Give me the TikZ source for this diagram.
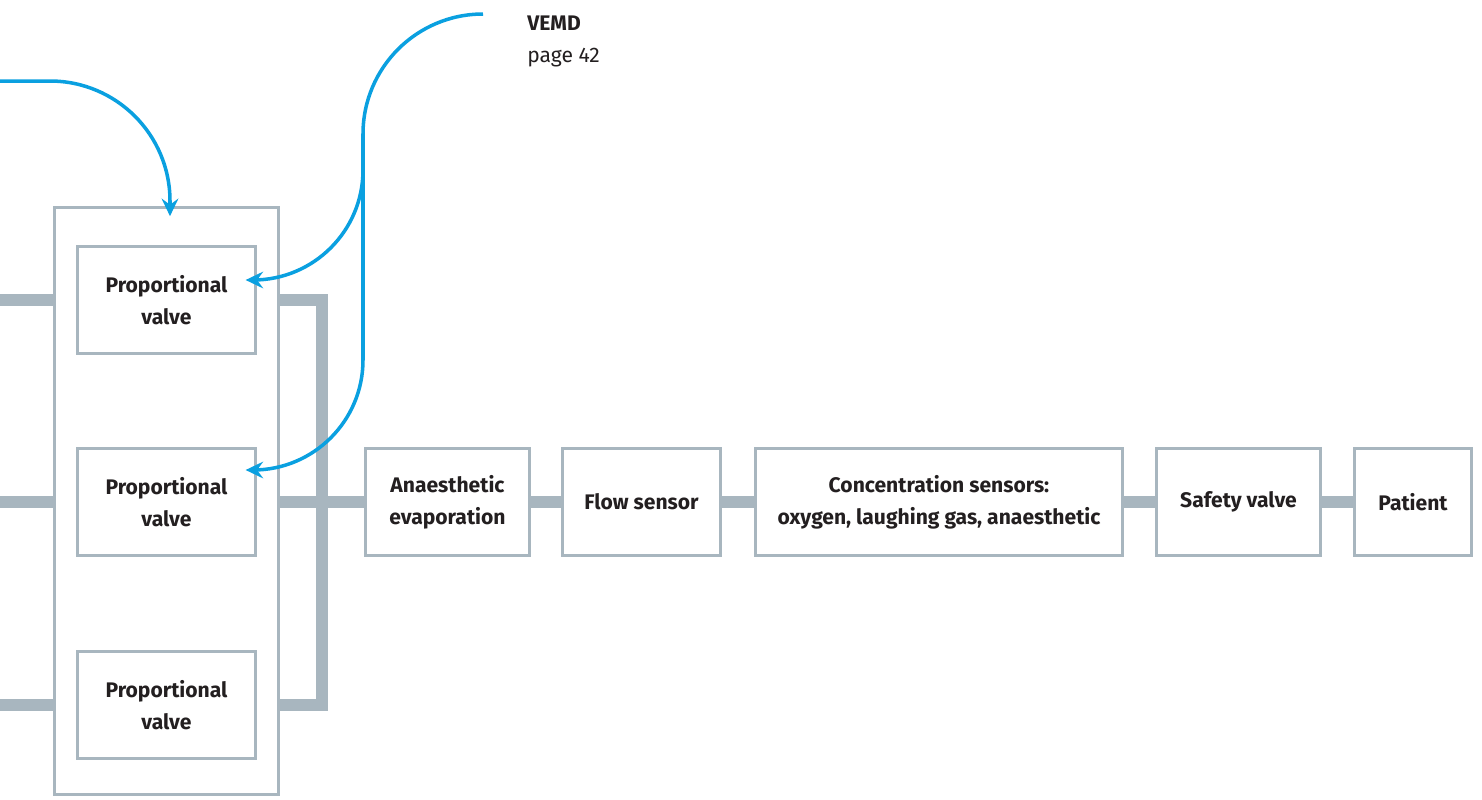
\documentclass[tikz,border=0pt]{standalone}
\usepackage{fontspec}
\setmainfont{Fira Sans}
\usetikzlibrary{arrows.meta,calc,backgrounds}
\definecolor{boxgray}{HTML}{A8B6BF}
\definecolor{ctrlblue}{HTML}{0AA0E0}
\definecolor{txt}{HTML}{231F20}
\begin{document}
\begin{tikzpicture}[x=0.02cm, y=0.02cm, >={Stealth[length=10pt,width=9.5pt,inset=3.5pt]},
  unitbox/.style={draw=boxgray, line width=1.7pt, fill=white, inner sep=0pt, align=center,
    minimum height=60.7pt, font=\fontsize{12}{18}\selectfont\bfseries, text=txt},
  valvebox/.style={unitbox, minimum width=100.9pt},
  pipe/.style={draw=boxgray, line width=7pt, line join=miter},
  ctrl/.style={draw=ctrlblue, line width=2pt}]
\useasboundingbox (0,0) rectangle (1482,-799);
\node[draw=boxgray, line width=1.7pt, minimum width=127pt, minimum height=333.9pt, inner sep=0pt] (frame) at (166.5,-501) {};
\node[valvebox] (valve1) at (166.5,-300) {Proportional\\valve};
\node[valvebox] (valve2) at (166.5,-502) {Proportional\\valve};
\node[valvebox] (valve3) at (166.5,-705) {Proportional\\valve};
\node[unitbox, minimum width=93pt] (evap) at (447.5,-502) {Anaesthetic\\evaporation};
\node[unitbox, minimum width=89.6pt] (flow) at (641.5,-502) {Flow sensor};
\node[unitbox, minimum width=209.2pt] (conc) at (939,-502) {Concentration sensors:\\oxygen, laughing gas, anaesthetic};
\node[unitbox, minimum width=93pt] (safety) at (1238.5,-502) {Safety valve};
\node[unitbox, minimum width=66.3pt] (patient) at (1413,-502) {Patient};
\node[anchor=north west, align=left, inner sep=0pt, text=txt, font=\fontsize{12}{18}\selectfont] (vemd) at (527,-16) {\textbf{VEMD}\\page 42};
% gas lines
\coordinate (in1) at (0,-300);
\coordinate (in2) at (0,-502);
\coordinate (in3) at (0,-705);
\coordinate (bustop) at (322,-300);
\coordinate (busbot) at (322,-705);
\begin{scope}[on background layer]
\draw[pipe] (in1) -- (in1 -| frame.west);
\draw[pipe] (in2) -- (in2 -| frame.west);
\draw[pipe] (in3) -- (in3 -| frame.west);
\draw[pipe] (bustop -| frame.east) -- (bustop) -- (busbot) -- (busbot -| frame.east);
\draw[pipe] (valve2 -| frame.east) -- (evap);
\draw[pipe] (evap) -- (flow);
\draw[pipe] (flow) -- (conc);
\draw[pipe] (conc) -- (safety);
\draw[pipe] (safety) -- (patient);
\end{scope}
% control signals
\coordinate (ctlA) at (0,-81);
\coordinate (ctlB) at (483,-14);
\coordinate (split) at (363,-170);
\draw[ctrl, ->] (ctlA) -- (50,-81) arc[start angle=90, end angle=0, radius=120] -- ($(frame.north)+(3.5,-10)$);
\draw[ctrl] (ctlB) arc[start angle=90, end angle=180, radius=120] -- (split);
\draw[ctrl, ->] (split) arc[start angle=0, end angle=-90, radius=110] -- ($(valve1.east)+(-11,20)$);
\draw[ctrl, ->] (split) -- (363,-360) arc[start angle=0, end angle=-90, radius=110] -- ($(valve2.east)+(-11,32)$);
\end{tikzpicture}
\end{document}
